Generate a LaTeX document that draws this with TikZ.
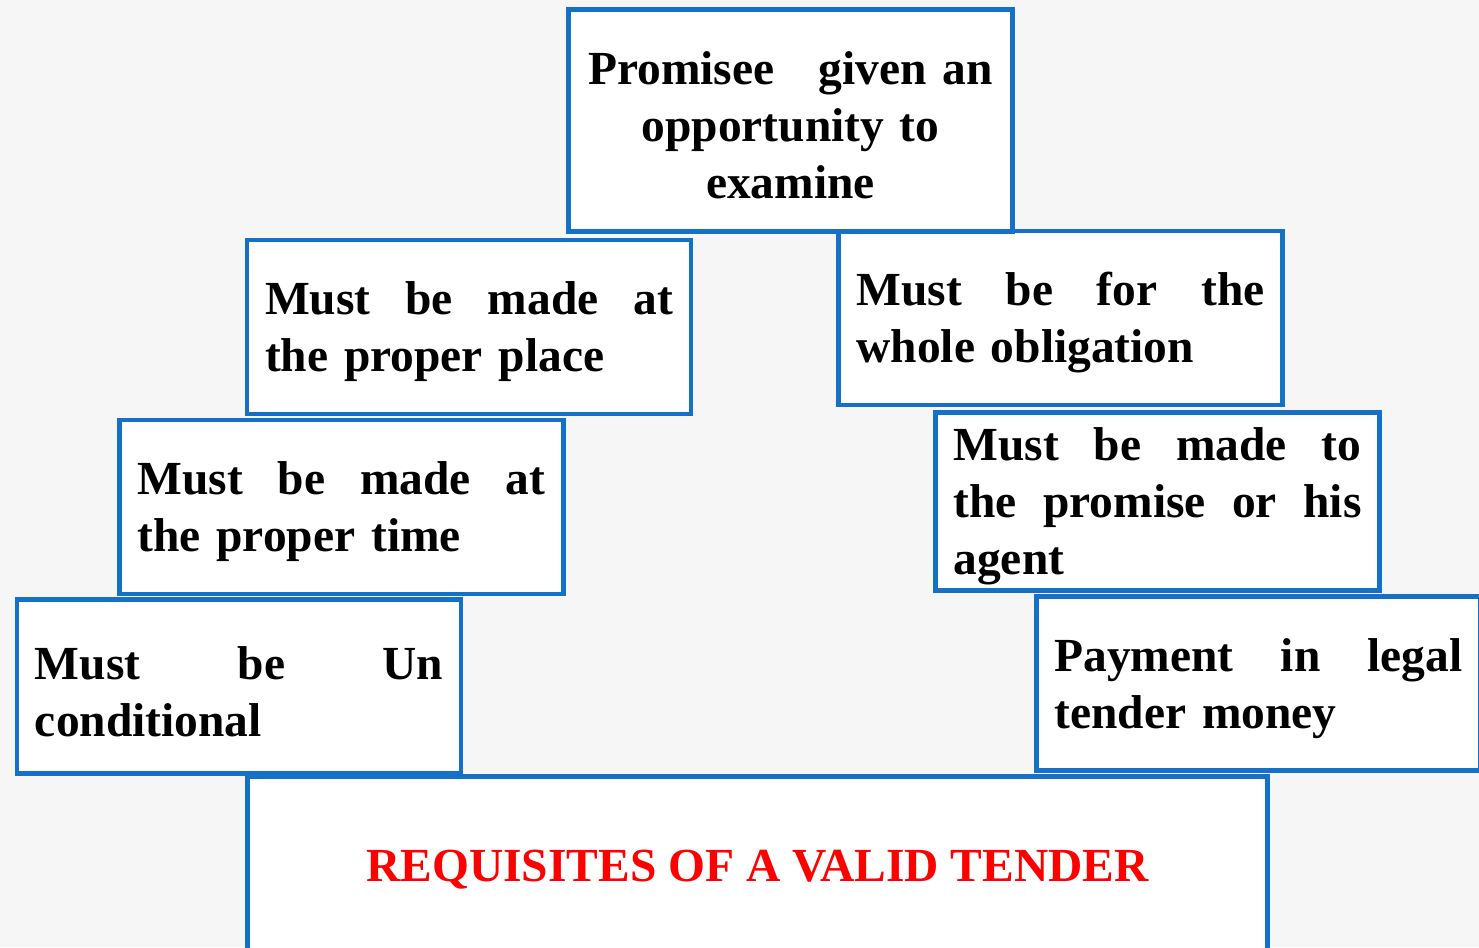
\documentclass[tikz,border=0pt]{standalone}
\usepackage{fontspec}
\setmainfont{Liberation Serif}
\usepackage{tikz}
\usetikzlibrary{positioning}
\definecolor{boxblue}{RGB}{21,112,200}
\definecolor{fond}{RGB}{246,246,246}
\definecolor{rouge}{RGB}{255,0,0}
\tikzset{
    req/.style={
    rectangle,draw=boxblue,fill=white,line width=3.6pt,text width=306pt,inner xsep=13.5pt,inner ysep=0pt,
    minimum height=130.5pt,align=left,font=\fontsize{35.6}{42.75}\selectfont\bfseries,
    execute at begin node={\rule{0pt}{32pt}}
    },
    reqc/.style={req,align=center},
    titre/.style={
    rectangle,draw=boxblue,fill=white,line width=3.6pt,minimum width=765pt,minimum height=139.5pt,
    text=rouge,font=\fontsize{35.6}{42.75}\selectfont\bfseries
    }
}

\begin{document}
\begin{tikzpicture}[x=0.75pt,y=-0.75pt]
    \useasboundingbox (0,0) rectangle (1479,947);
    \fill[fond] (0,0) rectangle (1479,947);

    \node[titre] (titre) at (757.5,869.5) {REQUISITES OF A VALID TENDER};

    \node[req] (uncond) at (239,686.5) {Must\hfill be\hfill Un\\conditional};
    \node[req,minimum height=131pt] (payment) at (1258.5,683.5) {Payment\hfill in\hfill legal\\tender money};
    \node[req] (time) at (341.5,507) {Must\hfill be\hfill made\hfill at\\the proper time};
    \node[req,minimum height=134pt] (agent) at (1157.5,501.5) {Must\hfill be\hfill made\hfill to\\the\hfill promise\hfill or\hfill his\\agent};
    \node[req] (place) at (469,327) {Must\hfill be\hfill made\hfill at\\the proper place};
    \node[req] (whole) at (1060.5,318) {Must\hfill be\hfill for\hfill the\\whole obligation};
    \node[reqc,minimum height=166.5pt] (promisee) at (790.5,120.5) {Promisee\hspace{0.6em} given an\\opportunity to\\examine};

\end{tikzpicture}
\end{document}
